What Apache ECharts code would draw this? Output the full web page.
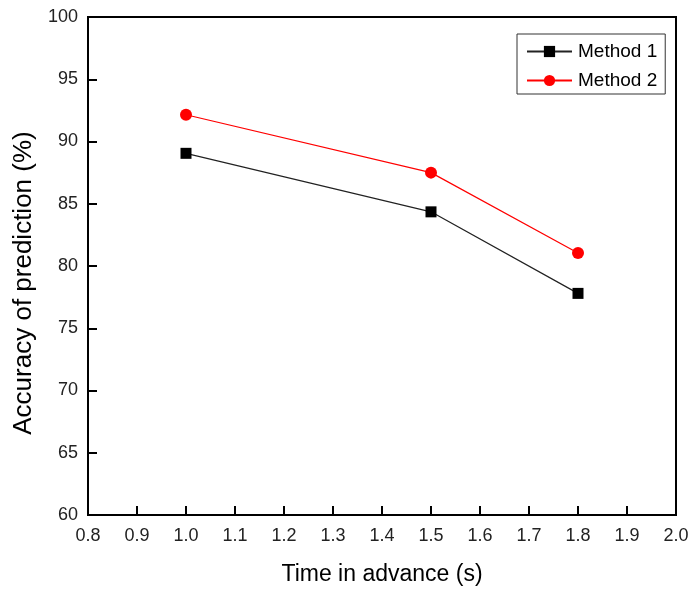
<!DOCTYPE html>
<html>
<head>
<meta charset="utf-8">
<script src="https://cdn.jsdelivr.net/npm/echarts@6/dist/echarts.min.js"></script>
<style>
  html, body { margin: 0; padding: 0; background: #fff; }
  #main { width: 692px; height: 597px; }
</style>
</head>
<body>
<div id="main"></div>
<script>
// data
var timeInAdvance = [1.0, 1.5, 1.8];
var method1 = [89.05, 84.35, 77.8];
var method2 = [92.15, 87.5, 81.05];
var seriesNames = ['Method 1', 'Method 2'];

function pairs(xs, ys) {
    var out = [];
    for (var i = 0; i < xs.length; i++) {
        out.push([xs[i], ys[i]]);
    }
    return out;
}

var chart = echarts.init(document.getElementById('main'));
var font = 'Arial, "Liberation Sans", sans-serif';

var option = {
    backgroundColor: '#fff',
    animation: false,
    grid: {
        left: 88, right: 16, top: 17, bottom: 82,
        show: true, borderColor: '#000', borderWidth: 2
    },
    legend: {
        data: seriesNames,
        orient: 'vertical',
        left: 517, top: 34,
        padding: [8, 8, 4, 9],
        itemGap: 10,
        itemWidth: 45,
        itemHeight: 14,
        borderColor: '#333',
        borderWidth: 1,
        backgroundColor: '#fff',
        textStyle: { fontFamily: font, fontSize: 19, color: '#000', padding: [0, 0, 0, 1] }
    },
    xAxis: {
        type: 'value',
        min: 0.8, max: 2.0, interval: 0.1,
        name: 'Time in advance (s)',
        nameLocation: 'middle',
        nameGap: 48,
        nameTextStyle: { fontFamily: font, fontSize: 23, color: '#000' },
        axisLine: { onZero: false, lineStyle: { color: '#000', width: 2 } },
        axisTick: { inside: true, length: 9, lineStyle: { color: '#000', width: 2 } },
        axisLabel: {
            fontFamily: font, fontSize: 18, color: '#222', margin: 12,
            formatter: function (v) { return v.toFixed(1); }
        },
        splitLine: { show: false }
    },
    yAxis: {
        type: 'value',
        min: 60, max: 100, interval: 5,
        name: 'Accuracy of prediction (%)',
        nameLocation: 'middle',
        nameGap: 51,
        nameTextStyle: { fontFamily: font, fontSize: 26, color: '#000', padding: [0, 34, 0, 0] },
        axisLine: { lineStyle: { color: '#000', width: 2 } },
        axisTick: { inside: true, length: 9, lineStyle: { color: '#000', width: 2 } },
        axisLabel: { fontFamily: font, fontSize: 18, color: '#222', margin: 10 },
        splitLine: { show: false }
    },
    series: [
        {
            name: seriesNames[0],
            type: 'line',
            data: pairs(timeInAdvance, method1),
            symbol: 'rect',
            symbolSize: 11,
            itemStyle: { color: '#000' },
            lineStyle: { color: '#222', width: 1.2 }
        },
        {
            name: seriesNames[1],
            type: 'line',
            data: pairs(timeInAdvance, method2),
            symbol: 'circle',
            symbolSize: 12,
            itemStyle: { color: '#ff0000' },
            lineStyle: { color: '#ff0000', width: 1.2 }
        }
    ]
};

chart.setOption(option);
</script>
</body>
</html>
